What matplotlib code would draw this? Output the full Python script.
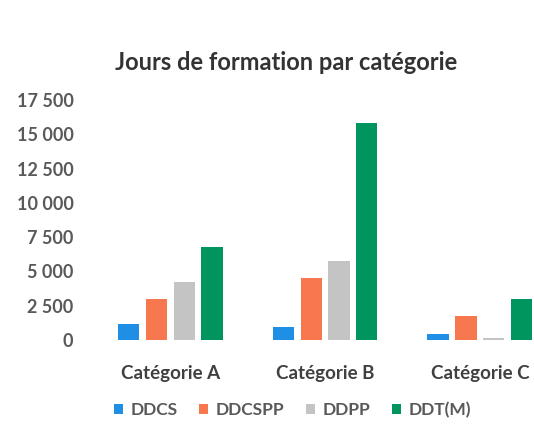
import numpy as np
import matplotlib.pyplot as plt

categories = ['Catégorie A', 'Catégorie B', 'Catégorie C']
series = ['DDCS', 'DDCSPP', 'DDPP', 'DDT(M)']
ddcs = [1200, 950, 450]
ddcspp = [3000, 4500, 1750]
ddpp = [4250, 5800, 120]
ddtm = [6800, 15800, 3000]
yticks = [0, 2500, 5000, 7500, 10000, 12500, 15000, 17500]

colors = ['#1f8fe5', '#f7774f', '#c4c4c4', '#00955f']
values = [ddcs, ddcspp, ddpp, ddtm]

plt.rcParams['font.family'] = ['Lato', 'DejaVu Sans']

fig = plt.figure(figsize=(5.34, 4.24), dpi=100)
ax = fig.add_axes([0.174, 0.198, 0.826, 0.566])

x = np.arange(len(categories))
step = 0.18
width = 0.137
for i, (name, vals) in enumerate(zip(series, values)):
    ax.bar(x + (i - 1.5) * step, vals, width, color=colors[i], label=name)

ax.set_xlim(-0.5, 2.35)
ax.set_ylim(0, 17500)
ax.set_yticks(yticks)
ax.set_yticklabels([f'{v:,}'.replace(',', ' ') for v in yticks],
                   fontsize=13, fontweight='bold', color='#595959')
ax.set_xticks(x)
ax.set_xticklabels(categories, fontsize=13.5, fontweight='bold', color='#404040')
ax.tick_params(axis='both', length=0)
ax.tick_params(axis='y', pad=14)
ax.tick_params(axis='x', pad=18)
for s in ax.spines.values():
    s.set_visible(False)

fig.text(0.536, 0.853, 'Jours de formation par catégorie', ha='center', va='center',
         fontsize=17, fontweight='bold', color='#333333')

leg = fig.legend(loc='center', bbox_to_anchor=(0.548, 0.033), ncol=4, frameon=False,
                 fontsize=12.5, handlelength=0.5, handleheight=0.5, handletextpad=0.45,
                 columnspacing=1.25)
for t in leg.get_texts():
    t.set_color('#595959')
    t.set_fontweight('bold')

fig.savefig('out.png', dpi=100)
